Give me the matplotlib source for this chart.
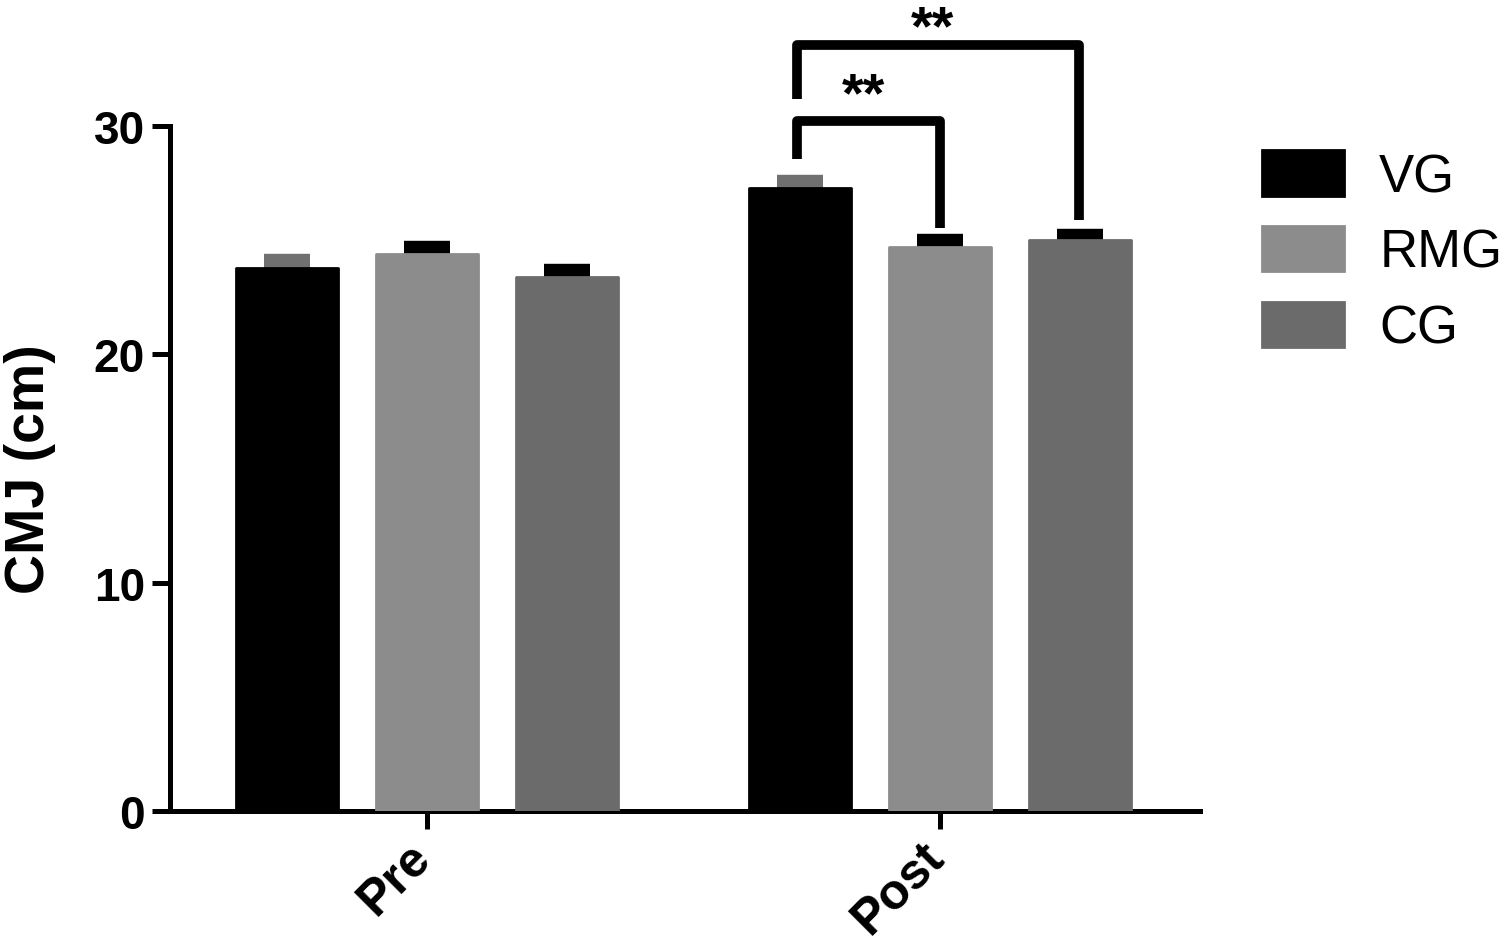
import matplotlib
matplotlib.use("Agg")
import matplotlib.pyplot as plt
import matplotlib.transforms as mtransforms
import numpy as np

plt.rcParams['font.family'] = ['Liberation Sans', 'DejaVu Sans']

# data
times = ["Pre", "Post"]
groups = ["VG", "RMG", "CG"]
vg_mean = [23.8, 27.3]
rmg_mean = [24.4, 24.7]
cg_mean = [23.4, 25.0]
vg_err = [0.38, 0.32]
rmg_err = [0.36, 0.33]
cg_err = [0.33, 0.28]

colors = ["#000000", "#8c8c8c", "#6b6b6b"]
err_colors = ["#707070", "#000000", "#000000"]

means = [vg_mean, rmg_mean, cg_mean]
errs = [vg_err, rmg_err, cg_err]

fig = plt.figure(figsize=(15, 9.45), dpi=100)
ax = fig.add_axes([0.1133, 0.1407, 0.6867, 0.7249])

x = np.arange(len(times))
step = 0.273
width = 0.199

for i, g in enumerate(groups):
    xs = x + (i - 1) * step
    ax.bar(xs, means[i], width, color=colors[i], edgecolor=colors[i],
           linewidth=2, joinstyle='round', label=g, zorder=3)
    ax.errorbar(xs, means[i], yerr=[np.zeros(len(times)), errs[i]], fmt='none',
                ecolor=err_colors[i], elinewidth=7, capsize=16.5, capthick=7.5,
                zorder=2)

# significance brackets (Post: VG vs RMG, VG vs CG)
xl = 1 - step
def bracket(x0, x1, y_top, y_left, y_right, txt, ty):
    ax.plot([x0, x0, x1, x1], [y_left, y_top, y_top, y_right], color='black',
            lw=7, solid_joinstyle='round', solid_capstyle='butt',
            clip_on=False, zorder=4)
    ax.text((x0 + x1) / 2 - 0.01, ty, txt, ha='center',
            va='center', fontsize=40, fontweight='bold', clip_on=False)

bracket(xl - 0.006, 1.0, 30.2, 28.55, 25.55, "**", 31.3)
bracket(xl - 0.006, 1.271, 33.55, 31.2, 25.9, "**", 34.25)

ax.set_xlim(-0.501, 1.507)
ax.set_ylim(0, 30)
ax.set_yticks([0, 10, 20, 30])
ax.set_xticks(x)
ax.set_xticklabels(times, rotation=45, ha='right', rotation_mode='anchor')

for s in ['top', 'right']:
    ax.spines[s].set_visible(False)
for s in ['left', 'bottom']:
    ax.spines[s].set_linewidth(3.6)

ax.tick_params(axis='both', width=3.6, length=13)
ax.tick_params(axis='y', labelsize=33, pad=5)
ax.tick_params(axis='x', labelsize=36, pad=3)
shift = mtransforms.ScaledTranslation(-14 / 72, 0, fig.dpi_scale_trans)
for lab in ax.get_xticklabels():
    lab.set_fontweight('bold')
    lab.set_transform(lab.get_transform() + shift)
for lab in ax.get_yticklabels():
    lab.set_fontweight('bold')

ax.set_ylabel("CMJ (cm)", fontsize=40, fontweight='bold', labelpad=27)

ax.legend(loc='upper left', bbox_to_anchor=(0.841, 0.84),
          bbox_transform=fig.transFigure, frameon=False, fontsize=38,
          handlelength=1.57, handleheight=0.95, handletextpad=0.66,
          labelspacing=0.45, borderpad=0, borderaxespad=0)

fig.savefig("out.png", dpi=100)
